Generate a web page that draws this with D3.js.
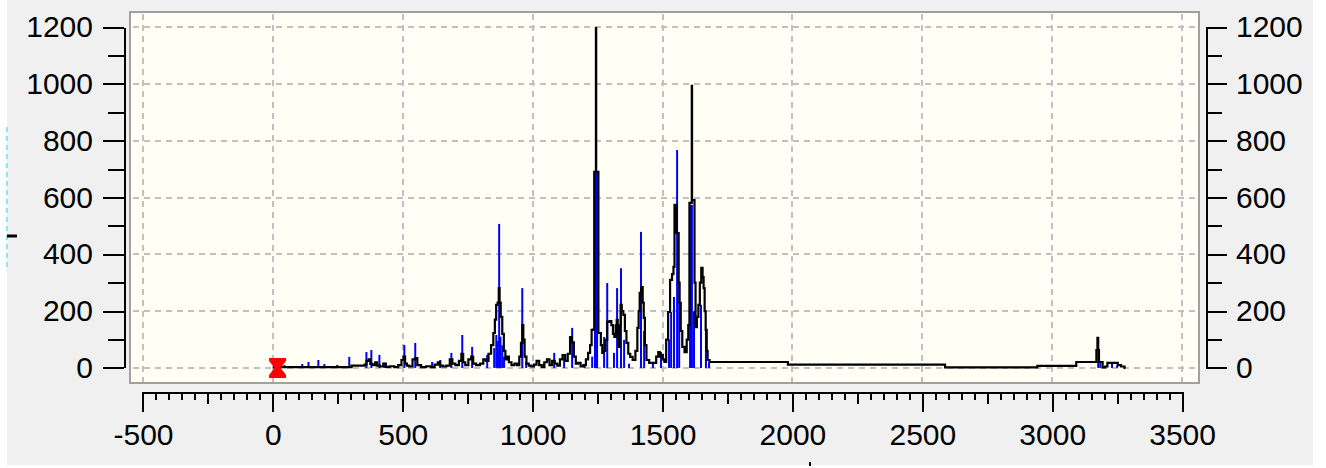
<!DOCTYPE html>
<html>
<head>
<meta charset="utf-8">
<script src="https://cdn.jsdelivr.net/npm/d3@7"></script>
<style>
	html, body { margin: 0; padding: 0; background: #fff; }
	svg { display: block; }
	.tick text { font-family: "Liberation Sans", Arial, sans-serif; font-size: 30px; fill: #000; }
</style>
</head>
<body>
<svg id="chart" width="1326" height="468"></svg>
<script>
// Peak list (blue sticks): position, intensity
var stickX = [44, 113, 137, 175, 198, 248, 294, 360, 379, 410, 429, 506, 548, 571, 613, 644, 687, 729, 767, 825,
	852, 860, 866, 871, 876, 883, 890, 960, 975, 1044, 1083, 1121, 1152, 1200, 1229, 1240, 1244, 1248,
	1275, 1287, 1313, 1325, 1340, 1352, 1371, 1417, 1429, 1463, 1494, 1525, 1533, 1544, 1556, 1564,
	1606, 1610, 1613, 1621, 1648, 1667, 1679, 3177, 3185, 3230, 3250];
var stickY = [10, 14, 21, 28, 14, 11, 39, 56, 63, 46, 18, 81, 88, 14, 21, 28, 53, 116, 74, 46,
	70, 116, 95, 507, 110, 80, 40, 281, 20, 18, 53, 39, 141, 10, 40, 690, 690, 690,
	109, 299, 53, 281, 351, 99, 15, 479, 130, 15, 56, 100, 197, 250, 767, 300,
	574, 574, 574, 200, 222, 134, 20, 63, 20, 15, 10];

// Measured profile (black line)
var profX = [0, 40, 300, 306, 350, 356, 365, 372, 378, 390, 398, 405, 420, 430, 440, 460, 475, 490, 500, 506,
	512, 520, 530, 545, 552, 560, 580, 600, 615, 630, 640, 648, 660, 675, 687, 695, 710, 722, 729, 736,
	745, 760, 767, 775, 790, 805, 815, 825, 835, 845, 852, 857, 862, 868, 871, 874, 880, 886, 892, 898,
	905, 912, 925, 935, 945, 952, 958, 962, 966, 972, 980, 990, 1000, 1010, 1020, 1030, 1040, 1050, 1060, 1070,
	1080, 1090, 1100, 1110, 1120, 1130, 1140, 1148, 1155, 1162, 1170, 1179, 1190, 1200, 1210, 1217, 1225, 1229, 1236, 1238,
	1243, 1244, 1245, 1252, 1254, 1260, 1265, 1271, 1276, 1283, 1291, 1300, 1306, 1312, 1317, 1322, 1325, 1330, 1333, 1337,
	1340, 1346, 1352, 1358, 1364, 1372, 1379, 1391, 1400, 1406, 1410, 1414, 1421, 1426, 1429, 1435, 1441, 1456, 1471, 1480,
	1487, 1492, 1498, 1504, 1510, 1518, 1525, 1533, 1540, 1544, 1548, 1552, 1556, 1560, 1564, 1567, 1573, 1579, 1590, 1596,
	1602, 1605, 1612, 1613, 1614, 1621, 1625, 1629, 1635, 1641, 1646, 1652, 1656, 1660, 1664, 1668, 1672, 1675, 1687, 1980,
	1985, 2585, 2590, 2940, 2945, 3090, 3095, 3168, 3172, 3176, 3178, 3182, 3190, 3198, 3210, 3215, 3250, 3255, 3275, 3282];
var profY = [2, 3, 3, 8, 8, 12, 25, 30, 14, 10, 20, 8, 5, 15, 4, 6, 3, 10, 28, 40,
	15, 8, 5, 30, 35, 10, 3, 6, 3, 12, 20, 8, 5, 8, 30, 15, 10, 25, 50, 20,
	10, 30, 40, 15, 10, 15, 30, 25, 50, 80, 123, 170, 222, 230, 281, 230, 180, 120, 60, 30,
	40, 20, 10, 15, 10, 40, 88, 151, 100, 40, 15, 8, 5, 12, 25, 10, 4, 20, 30, 10,
	25, 15, 8, 30, 45, 25, 50, 109, 90, 40, 15, 18, 5, 10, 30, 53, 80, 134, 135, 690,
	690, 1196, 690, 690, 123, 123, 80, 53, 60, 99, 162, 165, 151, 120, 109, 150, 169, 120, 74, 150,
	222, 200, 187, 130, 88, 50, 39, 28, 60, 141, 200, 264, 285, 230, 176, 80, 28, 18, 18, 40,
	56, 40, 46, 30, 21, 100, 197, 310, 330, 356, 574, 574, 475, 475, 300, 229, 130, 74, 56, 100,
	151, 581, 581, 993, 591, 591, 300, 144, 180, 222, 300, 352, 320, 281, 200, 134, 60, 28, 21, 21,
	12, 12, 2, 2, 7, 7, 21, 21, 63, 106, 63, 21, 21, 2, 5, 18, 18, 10, 5, 0];

var yTicks = [0, 200, 400, 600, 800, 1000, 1200];
var xTicks = [-500, 0, 500, 1000, 1500, 2000, 2500, 3000, 3500];
var markerX = 18, markerY = 0;

var fL = 130, fR = 1199, fT = 12, fB = 383;

var svg = d3.select("#chart");

	// Window background
svg.append("rect").attr("x", 7).attr("y", 0).attr("width", 1306).attr("height", 465).attr("fill", "#f0f0f0");

var x = d3.scaleLinear().domain([-550, 3565]).range([fL, fR]);
var y = d3.scaleLinear().domain([-53, 1253]).range([fB, fT]);
var fmt = function(d) { return String(d); };

	// Plot frame
svg.append("rect").attr("x", fL).attr("y", fT).attr("width", fR-fL).attr("height", fB-fT)
	.attr("fill", "#fffff6").attr("stroke", "#a0a0a0").attr("stroke-width", 2);

	// Grid
var grid = svg.append("g").attr("stroke", "#c0c0c0").attr("stroke-width", 2)
	.attr("stroke-dasharray", "6,5").attr("shape-rendering", "crispEdges");
grid.selectAll(".gx").data(xTicks).enter().append("line")
	.attr("x1", function(d) { return Math.round(x(d)); }).attr("x2", function(d) { return Math.round(x(d)); })
	.attr("y1", fT+2).attr("y2", fB-1);
grid.selectAll(".gy").data(yTicks).enter().append("line")
	.attr("y1", function(d) { return Math.round(y(d)); }).attr("y2", function(d) { return Math.round(y(d)); })
	.attr("x1", fL+3).attr("x2", fR-1);

	// Peak sticks
var sticks = stickX.map(function(v, i) { return { x: v, y: stickY[i] }; });
svg.append("g").selectAll("line").data(sticks).enter().append("line")
	.attr("x1", function(d) { return x(d.x); }).attr("x2", function(d) { return x(d.x); })
	.attr("y1", y(0)).attr("y2", function(d) { return y(d.y); })
	.attr("stroke", "#0000ff").attr("stroke-width", 2);

	// Profile, drawn as a stepped trace
var prof = profX.map(function(v, i) { return [v, profY[i]]; });
var line = d3.line().curve(d3.curveStep)
	.x(function(d) { return x(d[0]); }).y(function(d) { return y(d[1]); });
svg.append("path").datum(prof).attr("d", line)
	.attr("fill", "none").attr("stroke", "#000").attr("stroke-width", 2.2).attr("stroke-linejoin", "miter");

	// Red marker
svg.append("path")
	.attr("transform", "translate(" + x(markerX) + "," + y(markerY) + ")")
	.attr("d", "M-8.5,-10H8.5V-7L3,0L8.5,7V10H-8.5V7L-3,0L-8.5,-7Z")
	.attr("fill", "#ff0000");

	// Axes
var yAx = y.copy().domain([0, 1200]).range([y(0), y(1200)]);
var minorY = d3.range(0, 1201, 100);

function styleAxis(g)
{
	g.selectAll("path, line").attr("stroke", "#000").attr("stroke-width", 2).attr("shape-rendering", "crispEdges");
	g.selectAll("text").attr("fill", "#000");
}

svg.append("g").attr("transform", "translate(124,0)")
	.call(d3.axisLeft(yAx).tickValues(minorY).tickSize(16).tickSizeOuter(0).tickFormat(""))
	.call(styleAxis);
svg.append("g").attr("transform", "translate(124,0)")
	.call(d3.axisLeft(yAx).tickValues(yTicks).tickSize(21).tickSizeOuter(0).tickPadding(10).tickFormat(fmt))
	.call(styleAxis);

svg.append("g").attr("transform", "translate(1206,0)")
	.call(d3.axisRight(yAx).tickValues(minorY).tickSize(16).tickSizeOuter(0).tickFormat(""))
	.call(styleAxis);
svg.append("g").attr("transform", "translate(1206,0)")
	.call(d3.axisRight(yAx).tickValues(yTicks).tickSize(21).tickSizeOuter(0).tickPadding(9).tickFormat(fmt))
	.call(styleAxis);

var xAx = x.copy().domain([-500, 3500]).range([x(-500), x(3500)]);
var axY = 392;
svg.append("g").attr("transform", "translate(0," + axY + ")")
	.call(d3.axisBottom(xAx).tickValues(d3.range(-500, 3501, 50)).tickSize(8).tickSizeOuter(0).tickFormat(""))
	.call(styleAxis);
svg.append("g").attr("transform", "translate(0," + axY + ")")
	.call(d3.axisBottom(xAx).tickValues(d3.range(-500, 3501, 250)).tickSize(12).tickSizeOuter(0).tickFormat(""))
	.call(styleAxis);
svg.append("g").attr("transform", "translate(0," + axY + ")")
	.call(d3.axisBottom(xAx).tickValues(xTicks).tickSize(20).tickSizeOuter(0).tickPadding(12).tickFormat(fmt))
	.call(styleAxis);

	// Left edge leftovers of the window
svg.append("line").attr("x1", 7).attr("x2", 7).attr("y1", 127).attr("y2", 267)
	.attr("stroke", "#8ee8ec").attr("stroke-width", 2).attr("stroke-dasharray", "5,4");
svg.append("line").attr("x1", 7).attr("x2", 17).attr("y1", 236).attr("y2", 236)
	.attr("stroke", "#000").attr("stroke-width", 3);
svg.append("line").attr("x1", 810).attr("x2", 810).attr("y1", 462).attr("y2", 466)
	.attr("stroke", "#000").attr("stroke-width", 2);
</script>
</body>
</html>
